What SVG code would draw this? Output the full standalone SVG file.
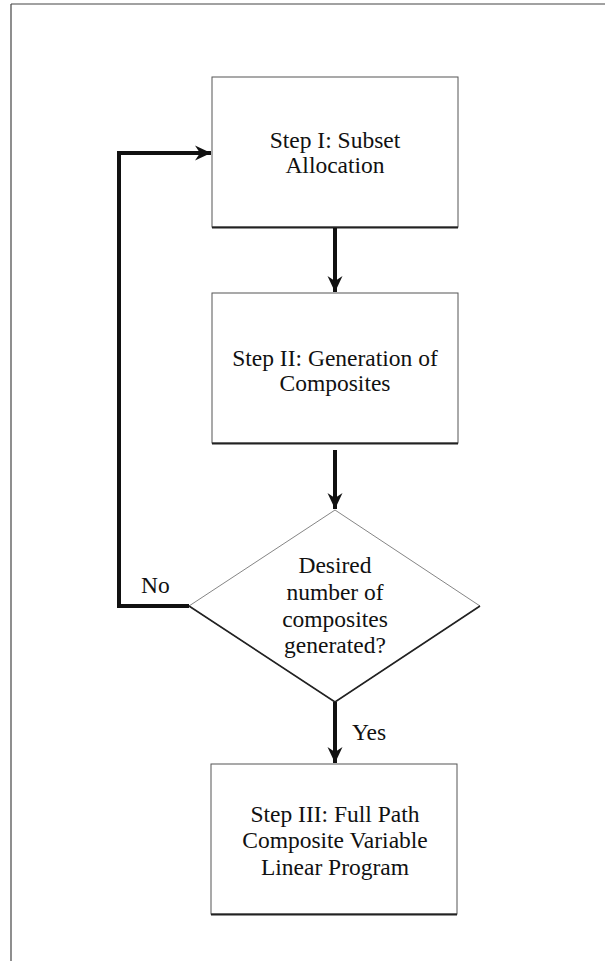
<svg xmlns="http://www.w3.org/2000/svg" width="605" height="961" viewBox="0 0 605 961">
<defs>
<style>
.t{font-family:"Liberation Serif","Times New Roman",serif;font-size:23.5px;fill:#111;text-anchor:middle}
.lb{font-family:"Liberation Serif","Times New Roman",serif;font-size:23.5px;fill:#111}
.box{fill:#fff;stroke:#555;stroke-width:1}
.shadow{stroke:#222;stroke-width:2.2;fill:none}
.conn{stroke:#111;stroke-width:4;fill:none}
</style>
<marker id="ah" markerUnits="userSpaceOnUse" markerWidth="18" markerHeight="18" viewBox="0 0 18 18" refX="16" refY="9" orient="auto">
<path d="M0,1.5 L16,9 L0,16.5 L5,9 Z" fill="#111"/>
</marker>
</defs>
<rect width="605" height="961" fill="#fff"/>
<g id="frame">
<line x1="11" y1="4" x2="605" y2="4" stroke="#444" stroke-width="1.2"/>
<line x1="11" y1="4" x2="11" y2="961" stroke="#444" stroke-width="1.2"/>
</g>
<g id="step1">
<rect class="box" x="212" y="77" width="246" height="150"/>
<line class="shadow" x1="212" y1="227.5" x2="458" y2="227.5"/>
<text class="t" x="335" y="148">Step I: Subset</text>
<text class="t" x="335" y="173">Allocation</text>
</g>
<g id="step2">
<rect class="box" x="212" y="293" width="246" height="150"/>
<line class="shadow" x1="212" y1="443.5" x2="458" y2="443.5"/>
<text class="t" x="335" y="366">Step II: Generation of</text>
<text class="t" x="335" y="391">Composites</text>
</g>
<g id="decision">
<path d="M335,510 L480,606 L335,702 L189,606 Z" fill="#fff" stroke="#666" stroke-width="0.8"/>
<path d="M189,606 L335,702 L480,606" fill="none" stroke="#222" stroke-width="1.6"/>
<text class="t" x="335" y="573">Desired</text>
<text class="t" x="335" y="600">number of</text>
<text class="t" x="335" y="627">composites</text>
<text class="t" x="335" y="653">generated?</text>
</g>
<g id="step3">
<rect class="box" x="211" y="764" width="246" height="150"/>
<line class="shadow" x1="211" y1="914.5" x2="457" y2="914.5"/>
<text class="t" x="335" y="822">Step III: Full Path</text>
<text class="t" x="335" y="848">Composite Variable</text>
<text class="t" x="335" y="875">Linear Program</text>
</g>
<g id="connectors">
<line class="conn" x1="335" y1="228" x2="335" y2="292" marker-end="url(#ah)"/>
<line class="conn" x1="335" y1="450" x2="335" y2="509" marker-end="url(#ah)"/>
<line class="conn" x1="335" y1="702" x2="335" y2="763" marker-end="url(#ah)"/>
<path class="conn" d="M189,606 L119,606 L119,153 L211,153" marker-end="url(#ah)"/>
<text class="lb" x="141" y="593">No</text>
<text class="lb" x="352" y="740">Yes</text>
</g>
</svg>
